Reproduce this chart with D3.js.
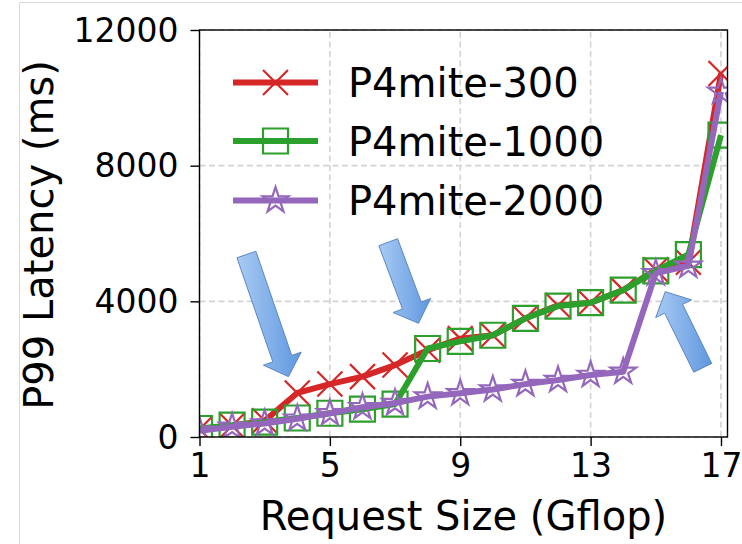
<!DOCTYPE html>
<html><head><meta charset="utf-8">
<script src="https://cdn.jsdelivr.net/npm/d3@7"></script>
<style>body{margin:0;background:#fff;overflow:hidden}text{font-family:"DejaVu Sans",sans-serif}</style>
</head><body><svg id="c" width="742" height="544"></svg>
<script>
const requestSizes = [1,2,3,4,5,6,7,8,9,10,11,12,13,14,15,16,17];
const latency300  = [230,330,480,1300,1560,1780,2120,2560,2900,3000,3500,3880,3960,4330,4930,5150,10720];
const latency1000 = [250,350,440,560,700,820,970,2610,2820,3000,3500,3860,3960,4330,4900,5380,8900];
const latency2000 = [180,300,400,540,700,880,1000,1190,1290,1400,1560,1680,1830,1925,4830,5050,10180];
const seriesNames = ["P4mite-300","P4mite-1000","P4mite-2000"];
const seriesColors = ["#d62728","#2ca02c","#9467bd"];
const seriesMarkers = ["x","square","star"];
const xTicks = [1,5,9,13,17];
const yTicks = [0,4000,8000,12000];
const arrowTails = [[2.44,5380],[6.79,5743],[16.44,2040]];
const arrowTips  = [[3.73,1780],[7.72,3352],[15.29,4284]];

const svg = d3.select("#c");
const L=199.5, R=727.5, T=30, B=437;
const x = d3.scaleLinear().domain([1,17.2]).range([L,R]);
const y = d3.scaleLinear().domain([0,12000]).range([B,T]);

// image frame
svg.append("path").attr("d","M19.5,544 V2.5 H742").attr("fill","none").attr("stroke","#d8d8d8").attr("stroke-width",1);

// grid
const grid = svg.append("g").attr("stroke","#d3d3d3").attr("stroke-width",1.6).attr("stroke-dasharray","6,3.5");
grid.selectAll("line.gx").data(xTicks).join("line")
  .attr("x1",d=>x(d)).attr("x2",d=>x(d)).attr("y1",B).attr("y2",T);
grid.selectAll("line.gy").data(yTicks).join("line")
  .attr("y1",d=>y(d)).attr("y2",d=>y(d)).attr("x1",L).attr("x2",R);

// clip
svg.append("clipPath").attr("id","clip").append("rect").attr("x",L).attr("y",T).attr("width",R-L).attr("height",B-T);

function markerPath(type){
  if(type==="x"){const s=12.5;return `M${-s},${-s}L${s},${s}M${-s},${s}L${s},${-s}`;}
  if(type==="square"){const s=12.5;return `M${-s},${-s}H${s}V${s}H${-s}Z`;}
  const Ro=13.5, ri=Ro*0.382; let p="";
  for(let i=0;i<10;i++){const r=i%2?ri:Ro;const a=-Math.PI/2+i*Math.PI/5;p+=(i?"L":"M")+(r*Math.cos(a)).toFixed(2)+","+(r*Math.sin(a)).toFixed(2);}
  return p+"Z";
}

const allSeries=[latency300,latency1000,latency2000];
const plot = svg.append("g").attr("clip-path","url(#clip)");
const line = d3.line().x((d,i)=>x(requestSizes[i])).y(d=>y(d));
allSeries.forEach((vals,k)=>{
  const g=plot.append("g");
  g.append("path").attr("d",line(vals)).attr("fill","none").attr("stroke",seriesColors[k]).attr("stroke-width",6).attr("stroke-linejoin","round");
  g.selectAll("path.m").data(vals).join("path").attr("class","m")
    .attr("transform",(d,i)=>`translate(${x(requestSizes[i])},${y(d)})`)
    .attr("d",markerPath(seriesMarkers[k])).attr("fill","none").attr("stroke",seriesColors[k]).attr("stroke-width",2.2);
});

// arrows
const defs=svg.append("defs");
const grad=defs.append("linearGradient").attr("id","ag").attr("x1","0").attr("y1","0").attr("x2","1").attr("y2","0");
grad.append("stop").attr("offset","0").attr("stop-color","#a8cbf4");
grad.append("stop").attr("offset","1").attr("stop-color","#6097df");
arrowTails.forEach((t,i)=>{
  const tx=x(t[0]),ty=y(t[1]),hx=x(arrowTips[i][0]),hy=y(arrowTips[i][1]);
  const dx=hx-tx,dy=hy-ty,len=Math.hypot(dx,dy),ux=dx/len,uy=dy/len,px=-uy,py=ux;
  const sw=10,hw=20,hl=19;
  const bx=hx-ux*hl,by=hy-uy*hl;
  const pts=[[tx+px*sw,ty+py*sw],[bx+px*sw,by+py*sw],[bx+px*hw,by+py*hw],[hx,hy],[bx-px*hw,by-py*hw],[bx-px*sw,by-py*sw],[tx-px*sw,ty-py*sw]];
  svg.append("path").attr("d","M"+pts.map(p=>p.join(",")).join("L")+"Z")
    .attr("fill","url(#ag)").attr("stroke","#5b86c4").attr("stroke-width",1).attr("stroke-linejoin","miter");
});

// axes
const xAxis = svg.append("g").attr("transform",`translate(0,${B})`)
  .call(d3.axisBottom(x).tickValues(xTicks).tickFormat(d3.format("d")).tickSize(9).tickPadding(8));
const yAxis = svg.append("g").attr("transform",`translate(${L},0)`)
  .call(d3.axisLeft(y).tickValues(yTicks).tickFormat(d3.format("d")).tickSize(9).tickPadding(12));
[xAxis,yAxis].forEach(a=>{a.select(".domain").remove();a.selectAll("line").attr("stroke","#000").attr("stroke-width",1.4);
  a.selectAll("text").attr("font-size",33).attr("fill","#000").attr("font-family","DejaVu Sans");});
yAxis.selectAll("text").attr("dy","0.34em");
svg.append("rect").attr("x",L).attr("y",T).attr("width",R-L).attr("height",B-T).attr("fill","none").attr("stroke","#000").attr("stroke-width",1.4);

svg.append("text").attr("x",(L+R)/2).attr("y",530).attr("text-anchor","middle").attr("font-size",40).text("Request Size (Gflop)");
svg.append("text").attr("transform",`translate(53,235) rotate(-90)`).attr("text-anchor","middle").attr("font-size",40).text("P99 Latency (ms)");

// legend
const legendRows=[82.5,141,200.5];
seriesNames.forEach((n,k)=>{
  const g=svg.append("g").attr("transform",`translate(0,${legendRows[k]})`);
  g.append("line").attr("x1",233).attr("x2",318).attr("y1",0).attr("y2",0).attr("stroke",seriesColors[k]).attr("stroke-width",6);
  g.append("path").attr("transform","translate(275.5,0)").attr("d",markerPath(seriesMarkers[k])).attr("fill","none").attr("stroke",seriesColors[k]).attr("stroke-width",2.2);
  g.append("text").attr("x",348).attr("y",14.5).attr("font-size",40).text(n);
});
</script></body></html>
